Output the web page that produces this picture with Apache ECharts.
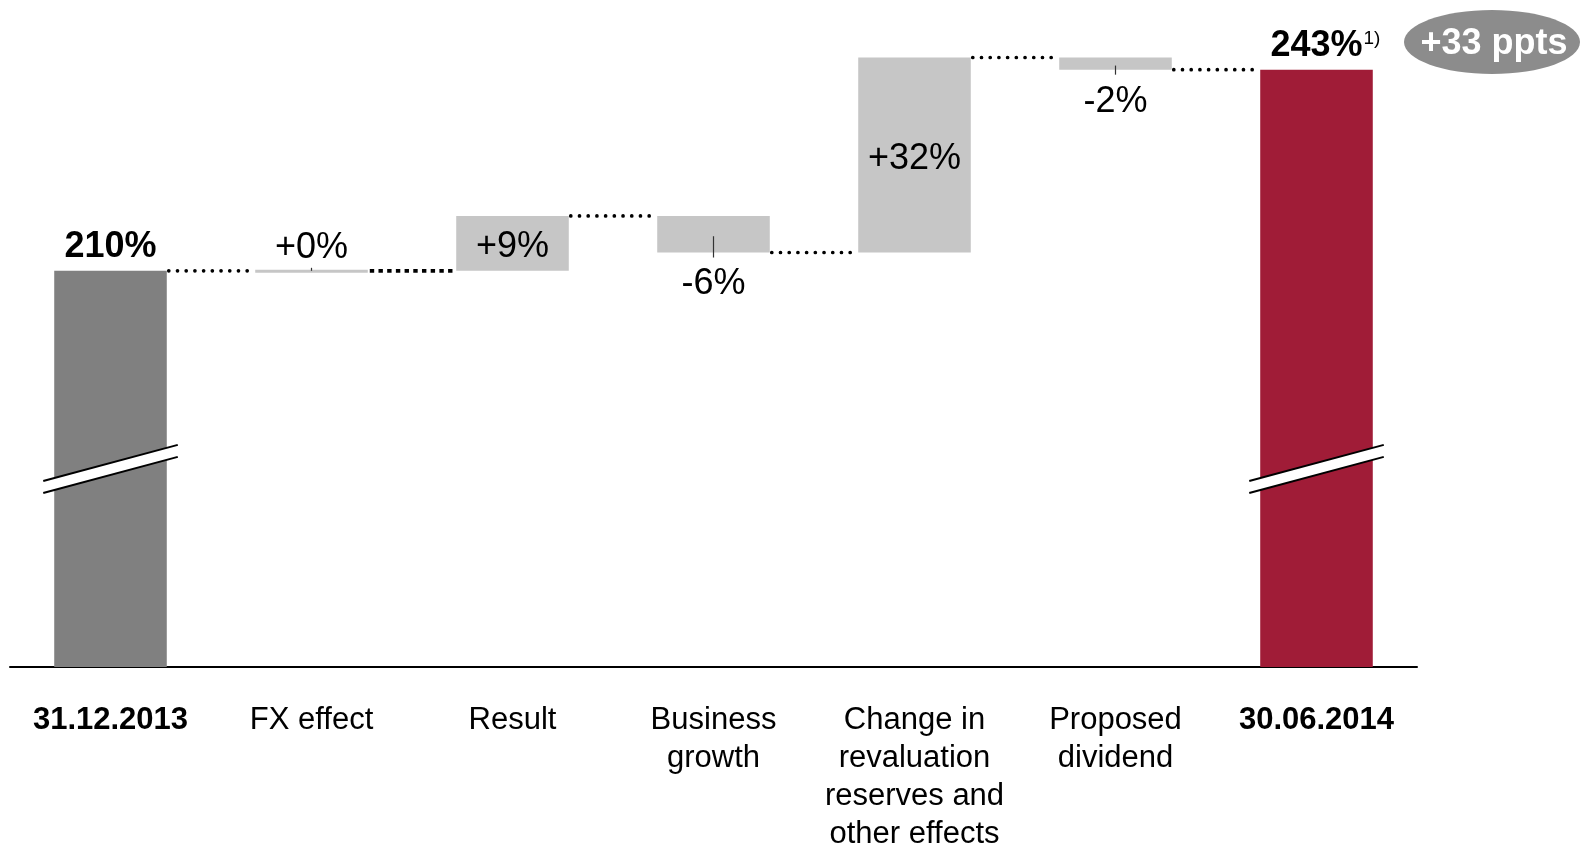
<!DOCTYPE html>
<html>
<head>
<meta charset="utf-8">
<script src="https://cdn.jsdelivr.net/npm/echarts@6/dist/echarts.min.js"></script>
<style>
  html, body { margin: 0; padding: 0; background: #ffffff; }
  #chart { width: 1581px; height: 846px; }
</style>
</head>
<body>
<div id="chart"></div>
<script>
// Solvency ratio bridge, 31.12.2013 -> 30.06.2014 (in %)
const categories = [
  '31.12.2013',
  'FX effect',
  'Result',
  'Business\ngrowth',
  'Change in\nrevaluation\nreserves and\nother effects',
  'Proposed\ndividend',
  '30.06.2014'
];
const startValue = 210;
const changes = [0, 9, -6, 32, -2];
const endValue = 243;
const endNote = '1)';
// value at which the broken-axis marks cut through the total bars
const breakLevel = 177.5;

const FONT = '"Liberation Sans", Arial, Helvetica, sans-serif';
const COLORS = ['#808080', '#c6c6c6', '#a01c37'];

// waterfall segments: [index, low, high, kind(0 start / 1 change / 2 end), delta]
const bars = [[0, 0, startValue, 0, startValue]];
const levels = [startValue];
let running = startValue;
changes.forEach((d, k) => {
  bars.push([k + 1, Math.min(running, running + d), Math.max(running, running + d), 1, d]);
  running += d;
  levels.push(running);
});
bars.push([categories.length - 1, 0, endValue, 2, endValue]);

// dotted connectors: level reached after bar i, joining bar i and bar i+1
const connectors = levels.map((v, i) => [i, v]);
const breaks = [[0, breakLevel], [categories.length - 1, breakLevel]];

function pct(v, signed) {
  return (signed && v >= 0 ? '+' : '') + v + '%';
}

function renderBar(params, api) {
  const i = api.value(0), lo = api.value(1), hi = api.value(2);
  const kind = api.value(3), d = api.value(4);
  const w = api.size([1, 0])[0] * 0.56;
  const pHi = api.coord([i, hi]), pLo = api.coord([i, lo]);
  const cx = pHi[0];
  let y0 = pHi[1], h = pLo[1] - pHi[1];
  if (h < 3) { y0 -= 1; h = 3; }
  const children = [{
    type: 'rect',
    shape: { x: cx - w / 2, y: y0, width: w, height: h },
    style: { fill: COLORS[kind] }
  }];
  const label = (text, y, bold) => ({
    type: 'text',
    style: {
      text: text, x: cx, y: y, fill: '#000',
      fontSize: 36, fontWeight: bold ? 'bold' : 'normal', fontFamily: FONT,
      align: 'center', verticalAlign: 'middle'
    }
  });
  const tick = (ya, yb) => ({
    type: 'line',
    shape: { x1: cx, y1: ya, x2: cx, y2: yb },
    style: { stroke: '#333', lineWidth: 1.2 }
  });
  if (kind !== 1) {
    children.push(label(pct(d, false), y0 - 24, true));
    if (kind === 2) {
      children.push({
        type: 'text',
        style: {
          text: endNote, x: cx + 47, y: y0 - 31, fill: '#000',
          fontSize: 19, fontFamily: FONT, align: 'left', verticalAlign: 'middle'
        }
      });
    }
  } else if (d > 0) {
    children.push(label(pct(d, true), y0 + h / 2 + 4, false));
  } else if (d < 0) {
    children.push(tick(y0 + h / 2 + 2, y0 + h + 5));
    children.push(label(pct(d, true), y0 + h + 32, false));
  } else {
    children.push(tick(y0 - 2, y0 + 1));
    children.push(label(pct(d, true), y0 - 22, false));
  }
  return { type: 'group', children: children };
}

function renderConnector(params, api) {
  const i = api.value(0), v = api.value(1);
  const w = api.size([1, 0])[0] * 0.56;
  const a = api.coord([i, v]), b = api.coord([i + 1, v]);
  const square = params.dataIndex === 1;
  return {
    type: 'line',
    shape: { x1: a[0] + w / 2 + 2, y1: a[1], x2: b[0] - w / 2, y2: b[1] },
    style: {
      stroke: '#000',
      lineWidth: square ? 3.8 : 3.7,
      lineDash: square ? [4.4, 4.3] : [0.01, 8.7],
      lineCap: square ? 'butt' : 'round'
    }
  };
}

function renderBreak(params, api) {
  const p = api.coord([api.value(0), api.value(1)]);
  const hl = api.size([1, 0])[0] * 0.28 + 11;
  const dy = hl * 0.268, g = 6;
  const cx = p[0], cy = p[1];
  return {
    type: 'group',
    children: [
      {
        type: 'polygon',
        shape: { points: [[cx - hl, cy - g + dy], [cx + hl, cy - g - dy], [cx + hl, cy + g - dy], [cx - hl, cy + g + dy]] },
        style: { fill: '#ffffff' }
      },
      {
        type: 'line',
        shape: { x1: cx - hl, y1: cy - g + dy, x2: cx + hl, y2: cy - g - dy },
        style: { stroke: '#000', lineWidth: 2 }
      },
      {
        type: 'line',
        shape: { x1: cx - hl, y1: cy + g + dy, x2: cx + hl, y2: cy + g - dy },
        style: { stroke: '#000', lineWidth: 2 }
      }
    ]
  };
}

const chart = echarts.init(document.getElementById('chart'), null, { renderer: 'canvas' });
chart.setOption({
  animation: false,
  backgroundColor: '#ffffff',
  textStyle: { fontFamily: FONT },
  grid: { left: 10, right: 164, top: 27, bottom: 179, outerBoundsMode: 'none', containLabel: false },
  xAxis: {
    type: 'category',
    data: categories,
    axisLine: { show: true, lineStyle: { color: '#000', width: 2 } },
    axisTick: { show: false },
    splitLine: { show: false },
    axisLabel: {
      interval: 0,
      margin: 34,
      color: '#000',
      fontSize: 31,
      lineHeight: 38,
      fontFamily: FONT,
      formatter: (v, i) => (i === 0 || i === categories.length - 1) ? '{b|' + v + '}' : v,
      rich: { b: { fontSize: 31, lineHeight: 38, fontWeight: 'bold', color: '#000', fontFamily: FONT } }
    }
  },
  yAxis: {
    type: 'value',
    min: 145,
    max: 250,
    show: false,
    splitLine: { show: false }
  },
  series: [
    { type: 'custom', name: 'connectors', renderItem: renderConnector, data: connectors, z: 1, silent: true },
    { type: 'custom', name: 'bars', renderItem: renderBar, data: bars, clip: true, z: 2, silent: true },
    { type: 'custom', name: 'breaks', renderItem: renderBreak, data: breaks, z: 3, silent: true }
  ],
  graphic: [
    {
      type: 'ellipse',
      shape: { cx: 1492, cy: 42, rx: 88, ry: 32 },
      style: { fill: '#8c8c8c' },
      z: 10
    },
    {
      type: 'text',
      x: 1494, y: 44,
      style: {
        text: '+' + (endValue - startValue) + ' ppts',
        fill: '#ffffff', fontSize: 36, fontWeight: 'bold', fontFamily: FONT,
        align: 'center', verticalAlign: 'middle'
      },
      z: 11
    }
  ]
});
</script>
</body>
</html>
